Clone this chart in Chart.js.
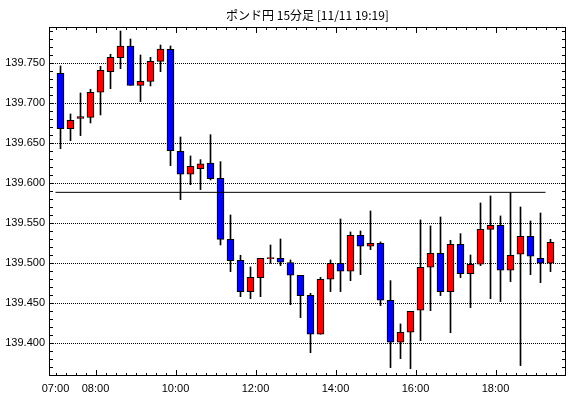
<!DOCTYPE html>
<html>
<head>
<meta charset="utf-8">
<script src="https://cdn.jsdelivr.net/npm/chart.js@4.4.0/dist/chart.umd.min.js"></script>
<style>
  html, body { margin: 0; padding: 0; background: #fff; }
</style>
</head>
<body>
<canvas id="myChart" width="570" height="398"></canvas>
<script>
var chartTitle = "ポンド円 15分足 [11/11 19:19]";

// 15-minute candles, 07:00 .. 19:15
var openPrices = [
  139.7375, 139.6683, 139.6810, 139.6825, 139.7138, 139.7396, 139.7571, 139.7717, 139.7225, 139.7275,
  139.7525, 139.7675, 139.6400, 139.6113, 139.6183, 139.6254, 139.6063, 139.5300, 139.5038, 139.4646,
  139.4821, 139.5058, 139.5063, 139.5008, 139.4850, 139.4600, 139.4113, 139.4800, 139.5000, 139.4900,
  139.5350, 139.5213, 139.5250, 139.4538, 139.4013, 139.4138, 139.4413, 139.4950, 139.5125, 139.4646,
  139.5238, 139.4871, 139.4988, 139.5425, 139.5475, 139.4913, 139.5113, 139.5338, 139.5063, 139.5000
];
var highPrices = [
  139.7467, 139.6867, 139.7129, 139.7175, 139.7463, 139.7613, 139.7904, 139.7804, 139.7604, 139.7575,
  139.7729, 139.7717, 139.6579, 139.6342, 139.6296, 139.6608, 139.6271, 139.5604, 139.5100, 139.4954,
  139.5063, 139.5229, 139.5304, 139.5042, 139.4850, 139.4625, 139.4825, 139.5042, 139.5554, 139.5392,
  139.5404, 139.5654, 139.5267, 139.4783, 139.4242, 139.4400, 139.5542, 139.5467, 139.5579, 139.5288,
  139.5371, 139.5104, 139.5754, 139.5842, 139.5592, 139.5883, 139.5704, 139.5529, 139.5629, 139.5300
];
var lowPrices = [
  139.6433, 139.6533, 139.6596, 139.6754, 139.6854, 139.7183, 139.7433, 139.7225, 139.7021, 139.7217,
  139.7396, 139.6221, 139.5796, 139.5983, 139.5921, 139.6042, 139.5229, 139.4896, 139.4583, 139.4558,
  139.4583, 139.5000, 139.4971, 139.4483, 139.4321, 139.3883, 139.4113, 139.4646, 139.4646, 139.4783,
  139.4858, 139.5171, 139.4471, 139.3696, 139.3808, 139.3683, 139.4033, 139.4408, 139.4596, 139.4133,
  139.4821, 139.4446, 139.4971, 139.4558, 139.4521, 139.4771, 139.3721, 139.4858, 139.4758, 139.4896
];
var closePrices = [
  139.6683, 139.6788, 139.6835, 139.7138, 139.7413, 139.7575, 139.7717, 139.7225, 139.7275, 139.7525,
  139.7679, 139.6408, 139.6113, 139.6213, 139.6242, 139.6058, 139.5300, 139.5033, 139.4646, 139.4825,
  139.5063, 139.5071, 139.5013, 139.4850, 139.4596, 139.4113, 139.4800, 139.5000, 139.4900, 139.5350,
  139.5213, 139.5250, 139.4538, 139.4013, 139.4138, 139.4400, 139.4950, 139.5125, 139.4646, 139.5238,
  139.4871, 139.4988, 139.5425, 139.5475, 139.4913, 139.5100, 139.5338, 139.5088, 139.5000, 139.5263
];
var refPrice = 139.5887;

var xTickLabels = ["07:00", "08:00", "10:00", "12:00", "14:00", "16:00", "18:00"];
var yTickValues = [139.40, 139.45, 139.50, 139.55, 139.60, 139.65, 139.70, 139.75];

// minutes since 07:00
function toMin(s) {
  var p = s.split(":");
  return (parseInt(p[0]) - 7) * 60 + parseInt(p[1]);
}
var candleTimes = [];
for (var i = 0; i < openPrices.length; i++) {
  var m = 7 * 60 + i * 15;
  candleTimes.push(String(Math.floor(m / 60)).padStart(2, "0") + ":" + String(m % 60).padStart(2, "0"));
}

var bodyData = [], wickData = [], bodyColors = [];
candleTimes.forEach(function (t, i) {
  var x = toMin(t) + 7.5;
  bodyData.push({ x: x, y: [openPrices[i], closePrices[i]] });
  wickData.push({ x: x, y: [lowPrices[i], highPrices[i]] });
  bodyColors.push(closePrices[i] >= openPrices[i] ? "#ff0000" : "#0000ff");
});
var lineData = [
  { x: toMin(candleTimes[0]), y: refPrice },
  { x: toMin(candleTimes[candleTimes.length - 1]), y: refPrice }
];

var frame = {
  id: "frame",
  afterDraw: function (chart) {
    var ctx = chart.ctx, a = chart.chartArea;
    var xs = chart.scales.x, ys = chart.scales.y;
    ctx.save();
    ctx.strokeStyle = "#000";
    ctx.lineWidth = 1;
    ctx.strokeRect(a.left + 0.5, a.top + 0.5, a.right - a.left - 1, a.bottom - a.top - 1);
    ctx.beginPath();
    // x tick marks every 15 min, long ones on the labelled hours
    var majors = xTickLabels.slice(1).map(toMin);
    for (var m = 0; ; m += 15) {
      var px = Math.round(xs.getPixelForValue(m)) + 0.5;
      if (px >= a.right - 1) break;
      var len = majors.indexOf(m) >= 0 ? 6 : 3;
      ctx.moveTo(px, a.bottom); ctx.lineTo(px, a.bottom - len);
      ctx.moveTo(px, a.top); ctx.lineTo(px, a.top + len);
    }
    // y tick marks every 0.01
    for (var k = 13936; k <= 13979; k++) {
      var py = Math.round(ys.getPixelForValue(k / 100)) + 0.5;
      if (py <= a.top + 1 || py >= a.bottom - 1) continue;
      ctx.moveTo(a.left, py); ctx.lineTo(a.left + 4, py);
      ctx.moveTo(a.right, py); ctx.lineTo(a.right - 4, py);
    }
    ctx.stroke();
    ctx.fillStyle = "#000";
    ctx.font = "12px 'Noto Sans CJK JP'";
    ctx.textAlign = "center";
    ctx.textBaseline = "middle";
    ctx.fillText(chartTitle, (a.left + a.right) / 2, 15);
    ctx.restore();
  }
};

var ctx = document.getElementById("myChart");
var myChart = new Chart(ctx, {
  type: "bar",
  data: {
    datasets: [
      {
        label: "wick",
        data: wickData,
        backgroundColor: "#000",
        borderWidth: 0,
        barThickness: 1,
        grouped: false,
        order: 3
      },
      {
        label: "body",
        data: bodyData,
        backgroundColor: bodyColors,
        borderColor: "#000",
        borderWidth: 1,
        borderSkipped: false,
        barThickness: 7,
        grouped: false,
        order: 2
      },
      {
        type: "line",
        label: "ref",
        data: lineData,
        borderColor: "#000",
        borderWidth: 1,
        pointRadius: 0,
        order: 1
      }
    ]
  },
  options: {
    responsive: false,
    animation: false,
    devicePixelRatio: 1,
    layout: { padding: { top: 27, right: 4, left: 0, bottom: 0 } },
    plugins: { legend: { display: false }, tooltip: { enabled: false }, title: { display: false } },
    scales: {
      x: {
        type: "linear",
        offset: false,
        min: -9.75,
        max: 765.75,
        grid: { display: false, drawTicks: false },
        border: { display: false },
        afterBuildTicks: function (scale) {
          scale.ticks = xTickLabels.map(function (s) { return { value: toMin(s) }; });
        },
        afterFit: function (scale) { scale.height = 22; },
        ticks: {
          autoSkip: false,
          maxRotation: 0,
          padding: 6,
          color: "#000",
          font: { family: "'Liberation Sans', Arial", size: 11 },
          callback: function (v, idx) { return xTickLabels[idx]; }
        }
      },
      y: {
        min: 139.3591,
        max: 139.7954,
        grid: { color: "#000", lineWidth: 1, drawTicks: false, borderDash: [1, 1] },
        border: { display: false, dash: [1, 1] },
        afterBuildTicks: function (scale) {
          scale.ticks = yTickValues.map(function (v) { return { value: v }; });
        },
        afterFit: function (scale) { scale.width = 49; },
        ticks: {
          padding: 4,
          color: "#000",
          font: { family: "'Liberation Sans', Arial", size: 11 },
          callback: function (v) { return Number(v).toFixed(3); }
        }
      }
    }
  },
  plugins: [frame]
});
</script>
</body>
</html>
